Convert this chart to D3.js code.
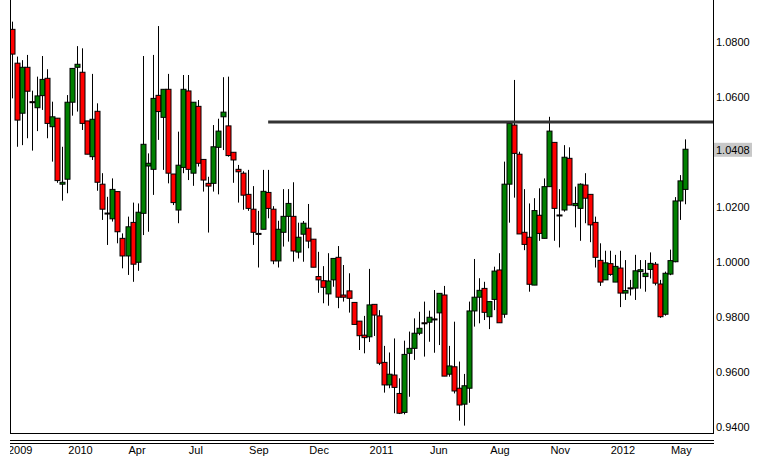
<!DOCTYPE html>
<html><head><meta charset="utf-8">
<script src="https://cdn.jsdelivr.net/npm/d3@7"></script>
<style>body{margin:0;background:#fff}svg{display:block}</style>
</head><body>
<script>
const opens=[1.0846,1.0723,1.0541,1.0708,1.0583,1.0561,1.0605,1.0668,1.0492,1.0523,1.0283,1.0301,1.0581,1.0708,1.0690,1.0513,1.0383,1.0548,1.0283,1.0178,1.0157,1.0256,1.0086,1.0022,1.0144,0.9999,1.0177,1.0349,1.0337,1.0606,1.0526,1.0628,1.0320,1.0189,1.0344,1.0622,1.0323,1.0566,1.0373,1.0286,1.0286,1.0417,1.0528,1.0495,1.0399,1.0337,1.0323,1.0246,1.0192,1.0104,1.0119,1.0253,1.0192,1.0004,1.0108,1.0166,1.0166,1.0036,1.0101,1.0123,1.0083,0.9947,0.9932,0.9884,0.9935,1.0017,0.9880,0.9895,0.9853,0.9785,0.9734,0.9728,0.9846,0.9804,0.9635,0.9553,0.9589,0.9522,0.9453,0.9668,0.9686,0.9741,0.9779,0.9781,0.9793,0.9815,0.9880,0.9592,0.9619,0.9541,0.9483,0.9541,0.9822,0.9872,0.9904,0.9801,0.9864,0.9971,0.9810,1.0283,1.0498,1.0392,1.0108,1.0090,0.9916,1.0170,1.0086,1.0274,1.0435,1.0171,1.0189,1.0377,1.0205,1.0195,1.0280,1.0246,1.0144,1.0006,0.9935,0.9994,0.9927,0.9978,0.9887,0.9906,0.9905,0.9965,0.9947,0.9973,0.9992,0.9920,0.9810,0.9956,1.0001,1.0222,1.0264];
const closes=[1.0756,1.0516,1.0708,1.0621,1.0581,1.0604,1.0664,1.0504,1.0528,1.0296,1.0290,1.0581,1.0704,1.0719,1.0504,1.0392,1.0519,1.0290,1.0192,1.0177,1.0264,1.0110,1.0022,1.0128,0.9992,1.0181,1.0428,1.0359,1.0595,1.0547,1.0628,1.0323,1.0216,1.0352,1.0628,1.0337,1.0581,1.0359,1.0298,1.0276,1.0419,1.0476,1.0545,1.0387,1.0371,1.0328,1.0243,1.0195,1.0108,1.0103,1.0257,1.0195,1.0004,1.0119,1.0166,1.0213,1.0040,1.0090,1.0141,1.0076,0.9981,0.9935,0.9908,0.9931,1.0013,0.9872,0.9872,0.9868,0.9773,0.9732,0.9725,0.9844,0.9807,0.9632,0.9553,0.9592,0.9544,0.9450,0.9664,0.9686,0.9741,0.9759,0.9778,0.9799,0.9792,0.9886,0.9585,0.9622,0.9531,0.9480,0.9550,0.9822,0.9872,0.9897,0.9817,0.9856,0.9967,0.9779,1.0283,1.0504,1.0395,1.0102,1.0064,0.9919,1.0187,1.0104,1.0274,1.0476,1.0195,1.0170,1.0381,1.0207,1.0213,1.0283,1.0232,1.0135,1.0017,0.9927,0.9997,0.9955,0.9984,0.9887,0.9896,0.9905,0.9968,0.9972,0.9959,0.9995,0.9923,0.9801,0.9959,1.0005,1.0222,1.0295,1.0410];
const highs=[1.0874,1.0747,1.0734,1.0753,1.0623,1.0674,1.0749,1.0701,1.0583,1.0523,1.0419,1.0607,1.0704,1.0785,1.0777,1.0513,1.0684,1.0577,1.0323,1.0237,1.0304,1.0256,1.0104,1.0165,1.0216,1.0213,1.0749,1.0395,1.0753,1.0858,1.0628,1.0684,1.0320,1.0474,1.0680,1.0680,1.0581,1.0589,1.0373,1.0310,1.0498,1.0521,1.0672,1.0674,1.0399,1.0353,1.0330,1.0335,1.0276,1.0186,1.0335,1.0335,1.0203,1.0150,1.0265,1.0265,1.0290,1.0143,1.0149,1.0211,1.0083,1.0037,0.9985,1.0032,1.0013,1.0058,0.9989,0.9959,0.9853,0.9785,0.9804,0.9975,0.9846,0.9825,0.9695,0.9671,0.9722,0.9577,0.9714,0.9747,0.9795,0.9819,0.9856,0.9823,0.9898,0.9886,0.9913,0.9695,0.9783,0.9638,0.9593,0.9856,1.0011,0.9941,0.9928,0.9856,0.9983,1.0032,1.0365,1.0504,1.0662,1.0401,1.0265,1.0213,1.0232,1.0268,1.0304,1.0528,1.0435,1.0265,1.0425,1.0417,1.0274,1.0286,1.0323,1.0246,1.0165,1.0068,1.0041,1.0041,1.0026,1.0041,1.0007,0.9935,1.0026,1.0007,1.0007,1.0035,1.0000,0.9935,0.9965,1.0045,1.0236,1.0316,1.0446];
const lows=[1.0595,1.0419,1.0425,1.0450,1.0405,1.0476,1.0553,1.0450,1.0365,1.0288,1.0223,1.0250,1.0532,1.0547,1.0480,1.0392,1.0371,1.0259,1.0153,1.0062,1.0147,1.0068,0.9977,0.9953,0.9928,0.9968,1.0098,1.0110,1.0244,1.0444,1.0335,1.0286,1.0207,1.0141,1.0323,1.0298,1.0277,1.0347,1.0256,1.0107,1.0256,1.0246,1.0407,1.0383,1.0288,1.0216,1.0190,1.0186,1.0062,0.9980,1.0119,1.0159,0.9992,0.9980,1.0056,1.0074,1.0001,1.0013,1.0001,1.0050,0.9981,0.9888,0.9850,0.9841,0.9910,0.9832,0.9856,0.9816,0.9773,0.9680,0.9668,0.9709,0.9731,0.9625,0.9525,0.9541,0.9450,0.9447,0.9446,0.9510,0.9644,0.9734,0.9656,0.9710,0.9670,0.9698,0.9585,0.9583,0.9522,0.9423,0.9405,0.9488,0.9765,0.9777,0.9789,0.9756,0.9825,0.9779,0.9797,1.0143,1.0234,1.0102,1.0043,0.9892,0.9916,1.0077,1.0086,1.0274,1.0077,1.0053,1.0183,1.0207,1.0126,1.0077,1.0141,1.0072,0.9980,0.9913,0.9935,0.9950,0.9927,0.9836,0.9862,0.9878,0.9862,0.9903,0.9892,0.9940,0.9915,0.9797,0.9805,0.9952,0.9999,1.0153,1.0210];
const xLabels=["2009","2010","Apr","Jul","Sep","Dec","2011","Jun","Aug","Nov","2012","May"];
const yTicks=[0.94,0.96,0.98,1.00,1.02,1.06,1.08];
const resistance=1.0509, resistanceStart=51, lastPrice=1.0408;

const W=758,H=458,L=10,R=713,B=433;
const svg=d3.select("body").append("svg").attr("width",W).attr("height",H)
  .style("font-family","'Liberation Sans',Arial,sans-serif");
const x=d3.scaleLinear().domain([0,opens.length-1]).range([12,685]);
const y=d3.scaleLinear().domain([0.94,1.08]).range([427,42]);
svg.append("clipPath").attr("id","c").append("rect").attr("x",L).attr("y",0).attr("width",R-L).attr("height",B);
const g=svg.append("g").attr("clip-path","url(#c)");
const data=opens.map((o,i)=>({i,o,c:closes[i],h:highs[i],l:lows[i]}));
g.selectAll("line.w").data(data).join("line").attr("class","w")
  .attr("x1",d=>Math.round(x(d.i))+0.5).attr("x2",d=>Math.round(x(d.i))+0.5)
  .attr("y1",d=>y(d.h)).attr("y2",d=>y(d.l)).attr("stroke","#000").attr("stroke-width",1);
g.selectAll("rect.b").data(data).join("rect").attr("class","b")
  .attr("x",d=>Math.round(x(d.i))-2).attr("width",5)
  .attr("y",d=>y(Math.max(d.o,d.c))).attr("height",d=>Math.max(1,Math.abs(y(d.o)-y(d.c))))
  .attr("fill",d=>d.c>=d.o?"#008000":"#ff0000").attr("stroke","#000").attr("stroke-width",1);
g.append("line").attr("x1",x(resistanceStart)).attr("x2",R).attr("y1",y(resistance)).attr("y2",y(resistance))
  .attr("stroke","#333").attr("stroke-width",3);
svg.append("line").attr("x1",L+0.5).attr("x2",L+0.5).attr("y1",0).attr("y2",B).attr("stroke","#000");
svg.append("line").attr("x1",R+0.5).attr("x2",R+0.5).attr("y1",0).attr("y2",B).attr("stroke","#000");
svg.append("line").attr("x1",L).attr("x2",R+1).attr("y1",B+0.5).attr("y2",B+0.5).attr("stroke","#000");
svg.append("line").attr("x1",L).attr("x2",R+1).attr("y1",440.5).attr("y2",440.5).attr("stroke","#000");
svg.append("line").attr("x1",L).attr("x2",R+1).attr("y1",443.5).attr("y2",443.5).attr("stroke","#000");
svg.selectAll("text.y").data(yTicks).join("text").attr("class","y")
  .attr("x",716).attr("y",d=>y(d)+4).attr("font-size",11).attr("fill","#000").text(d=>d.toFixed(4));
const ly=y(lastPrice);
svg.append("rect").attr("x",714).attr("y",ly-7).attr("width",38).attr("height",14).attr("fill","#c8c8c8");
svg.append("text").attr("x",716).attr("y",ly+4).attr("font-size",11).text(lastPrice.toFixed(4));
svg.append("clipPath").attr("id","cx").append("rect").attr("x",L).attr("y",444).attr("width",R-L).attr("height",14);
const xl=svg.append("g").attr("clip-path","url(#cx)");
xl.selectAll("text").data(xLabels).join("text")
  .attr("x",(d,k)=>x(k*12)-4).attr("y",454).attr("font-size",11).text(d=>d);
</script>
</body></html>
